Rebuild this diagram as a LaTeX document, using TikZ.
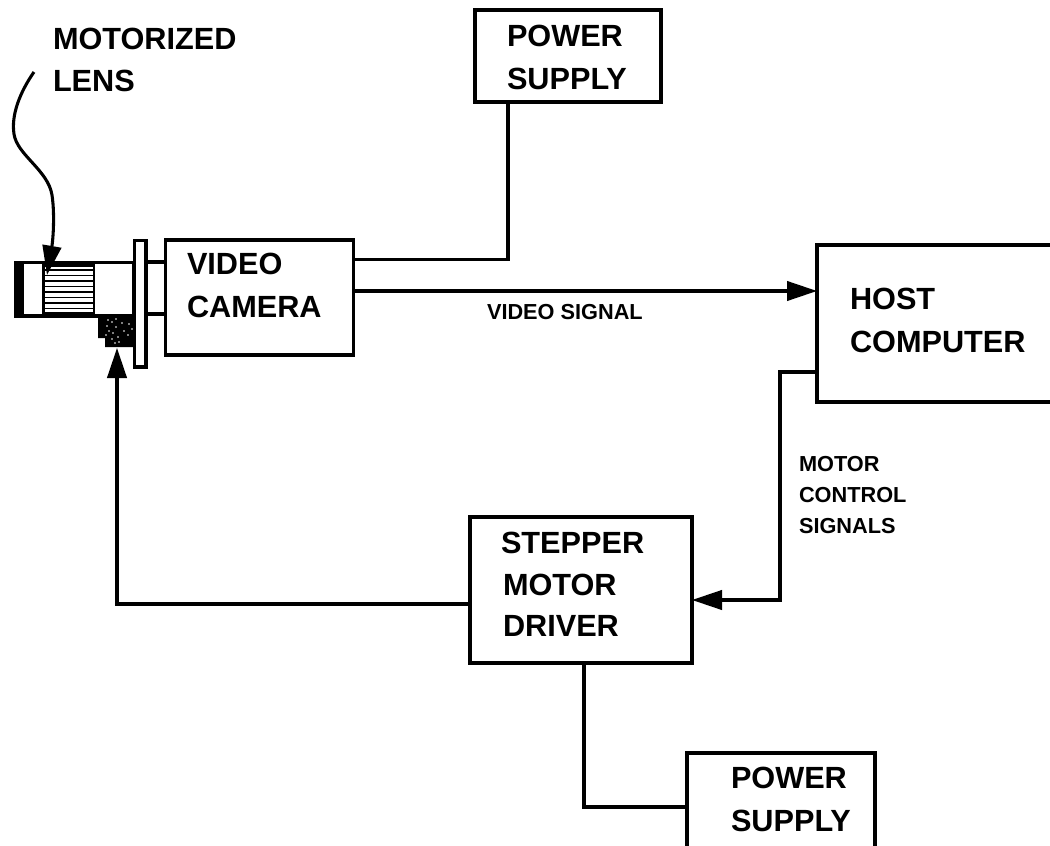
\documentclass[tikz,border=0pt]{standalone}
\usepackage{fontspec}
\setmainfont{Liberation Sans}
\usetikzlibrary{arrows.meta}
\tikzset{
  x=0.75pt,y=-0.75pt,
  line/.style={line width=2.3pt,line join=miter},
  box/.style={draw,line width=2.3pt,minimum width=#1,inner sep=0pt,outer sep=0pt},
  big/.style={anchor=north west,inner sep=0pt,outer sep=0pt,align=left,font=\fontsize{23}{32.6}\selectfont\bfseries},
  small/.style={anchor=north west,inner sep=0pt,outer sep=0pt,align=left,font=\fontsize{16.3}{23.25}\selectfont\bfseries},
  flow/.style={line,-{Triangle[length=22.5pt,width=14.5pt]}},
}
\begin{document}
\begin{tikzpicture}
\useasboundingbox (0,0) rectangle (1050,846);
\fill[white] (0,0) rectangle (1050,846);
\clip (0,0) rectangle (1050,846);

% boxes
\node[box=139.5pt,minimum height=69pt] (ps1) at (568,56) {};
\node[box=141pt,minimum height=86.25pt] (cam) at (259.5,297.5) {};
\node[box=189.75pt,minimum height=117.75pt] (host) at (943.5,323.5) {};
\node[box=166.5pt,minimum height=109.5pt] (drv) at (581,590) {};
\node[box=141pt,minimum height=84.75pt] (ps2) at (781,809.5) {};

% lens assembly
\draw[line,fill=white] (15.5,262.5) rectangle (134,316);
\fill (15,262) rectangle (24,317);
\fill (42,262) rectangle (45,317);
\fill (45,262) rectangle (93,267);
\fill (93,262) rectangle (95,317);
\foreach \yy in {270,275.5,281,286.5,292,297.5,303,308.5,313}
  \draw[line width=1.3pt] (45,\yy) -- (93,\yy);
\fill (98,315) -- (137,315) -- (137,347) -- (105,347) -- (105,338) -- (98,338) -- cycle;
\foreach \px/\py in {108/320, 112/322, 116/319, 107/326, 109/331, 106/335, 113/333, 118/337, 122/323, 129/324, 132/329, 128/335, 115/343, 119/342, 112/339, 124/331, 116/327}
  \fill[white] (\px,\py) circle (0.7pt);
\draw[line,fill=white] (134.5,240.5) rectangle (146,367);
\draw[line] (146,262) -- (165,262);
\draw[line] (146,314) -- (165,314);

% labels
\node[big,font=\fontsize{23}{31.5}\selectfont\bfseries] (tlens) at (53,28) {MOTORIZED\\LENS};
\node[big] (tps1) at (507,25) {POWER\\SUPPLY};
\node[big] (tcam) at (187,253) {VIDEO\\CAMERA};
\node[big] (thost) at (850,288) {HOST\\COMPUTER};
\node[big] (tdrv1) at (501,532) {STEPPER};
\node[big] (tdrv2) at (503,574) {MOTOR};
\node[big] (tdrv3) at (503,615) {DRIVER};
\node[big] (tps2) at (731,767) {POWER\\SUPPLY};
\node[small] (tvid) at (487,304) {VIDEO SIGNAL};
\node[small] (tmot) at (799,456) {MOTOR\\CONTROL\\SIGNALS};

% connectors
\draw[line] (cam.east |- 0,259.5) -| (ps1.south -| 508,0);
\draw[flow] (cam.east |- 0,291) -- (host.west |- 0,291);
\draw[flow] (host.west |- 0,372) -- (780,372) -- (780,600) -- (drv.east |- 0,600);
\draw[flow] (drv.west |- 0,604) -- (117,604) -- (117,348);
\draw[line] (drv.south -| 584,0) -- (584,807) -- (ps2.west |- 0,807);

% pointer from label to lens
\coordinate (lensarrow) at (34,72);
\draw[line,-{Triangle[length=22pt,width=14pt]}] (lensarrow) .. controls (20,92) and (11,115) .. (14,134) .. controls (17,155) and (48,170) .. (52,195) .. controls (55,215) and (53,240) .. (47,275);
\end{tikzpicture}
\end{document}
